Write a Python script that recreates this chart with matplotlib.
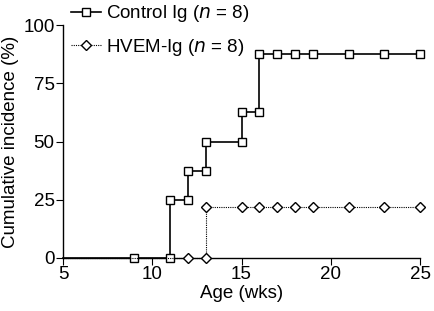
import matplotlib
matplotlib.use("Agg")
import matplotlib.pyplot as plt

plt.rcParams['font.family'] = ['Liberation Sans', 'DejaVu Sans']

# Control Ig
ctrl_wks = [5, 9, 11, 11, 12, 12, 13, 13, 15, 15, 16, 16, 17, 18, 19, 21, 23, 25]
ctrl_inc = [0, 0, 0, 25, 25, 37.5, 37.5, 50, 50, 62.5, 62.5, 87.5, 87.5, 87.5, 87.5, 87.5, 87.5, 87.5]

# HVEM-Ig
hvem_wks = [5, 9, 12, 13, 13, 15, 16, 17, 18, 19, 21, 23, 25]
hvem_inc = [0, 0, 0, 0, 22, 22, 22, 22, 22, 22, 22, 22, 22]

fs = 13.5

fig = plt.figure(figsize=(4.34, 3.11), dpi=100)
ax = fig.add_axes([63 / 434, 53 / 311, 357 / 434, 233 / 311])

ax.plot(ctrl_wks, ctrl_inc, color='black', lw=1.2, marker='s', ms=6,
        mfc='white', mec='black', mew=1.0, markevery=list(range(1, len(ctrl_wks))),
        label='Control Ig ($n$ = 8)', zorder=3)
ax.plot(hvem_wks, hvem_inc, color='black', lw=0.8, ls=(0, (1, 1)), marker='D', ms=5,
        mfc='white', mec='black', mew=1.0, markevery=list(range(2, len(hvem_wks))),
        label='HVEM-Ig ($n$ = 8)', zorder=4)

ax.set_xlim(5, 25)
ax.set_ylim(0, 100)
ax.set_xticks([5, 10, 15, 20, 25])
ax.set_yticks([0, 25, 50, 75, 100])
ax.spines['top'].set_visible(False)
ax.spines['right'].set_visible(False)
ax.tick_params(direction='out', length=5, labelsize=fs, pad=1)
for s in ax.spines.values():
    s.set_linewidth(1.0)
ax.set_xlabel('Age (wks)', fontsize=fs, labelpad=1)
ax.set_ylabel('Cumulative incidence (%)', fontsize=fs, labelpad=3)

leg = ax.legend(loc='upper left', bbox_to_anchor=(0.0, 1.125), frameon=False,
                fontsize=fs, handlelength=1.6, handletextpad=0.3,
                labelspacing=0.65, borderaxespad=0)
for l in ax.lines:
    l.set_clip_on(False)

fig.savefig('out.png', dpi=100)
